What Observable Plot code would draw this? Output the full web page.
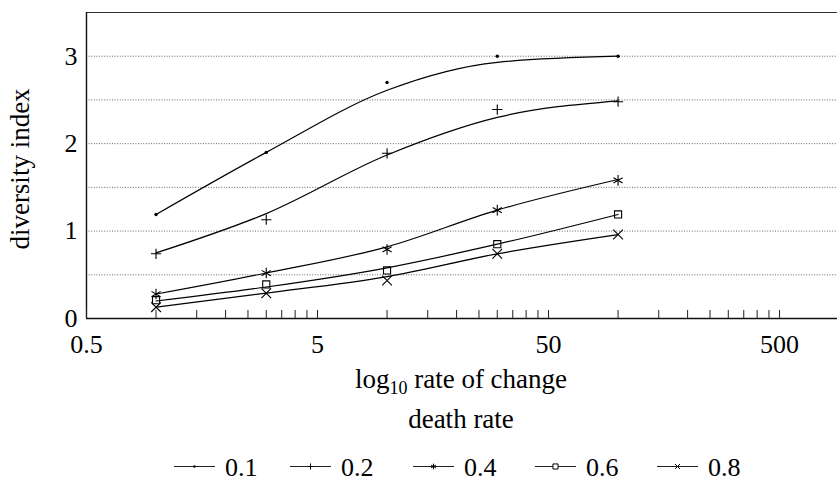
<!DOCTYPE html>
<html>
<head>
<meta charset="utf-8">
<script src="https://cdn.jsdelivr.net/npm/d3@7"></script>
<script src="https://cdn.jsdelivr.net/npm/@observablehq/plot@0.6"></script>
<style>
  html, body { margin: 0; padding: 0; background: white; }
  #chart svg { display: block; }
</style>
</head>
<body>
<div id="chart"></div>
<script>
// Death-rate values (x, log scale)
const xs = [1, 3, 10, 30, 100];
// Series (legend labels) and their marker symbols
const seriesNames = ["0.1", "0.2", "0.4", "0.6", "0.8"];
const seriesSymbols = ["circle", "plus", "asterisk", "square", "times"];
// Observed diversity index values (markers)
const obs01 = [1.19, 1.90, 2.70, 3.00, 3.00];
const obs02 = [0.74, 1.13, 1.89, 2.39, 2.48];
const obs04 = [0.28, 0.52, 0.79, 1.24, 1.58];
const obs06 = [0.21, 0.39, 0.55, 0.85, 1.19];
const obs08 = [0.13, 0.29, 0.435, 0.74, 0.96];
// Fitted (smoothed) curve values at the same x
const fit01 = [1.19, 1.90, 2.61, 2.93, 3.00];
const fit02 = [0.75, 1.20, 1.87, 2.30, 2.49];
const fit04 = [0.28, 0.52, 0.82, 1.24, 1.59];
const fit06 = [0.20, 0.36, 0.58, 0.85, 1.19];
const fit08 = [0.13, 0.29, 0.48, 0.74, 0.96];
// Axis ticks
const xTickMarks = [0.5, 1, 1.5, 2, 2.5, 3, 3.5, 4, 4.5, 5,
                    10, 15, 20, 25, 30, 35, 40, 45, 50,
                    100, 150, 200, 250, 300, 350, 400, 450, 500];
const xTickLabels = [0.5, 5, 50, 500];
const yTickLabels = [0, 1, 2, 3];
const yGrid = [0.5, 1, 1.5, 2, 2.5, 3];

const obsAll = [obs01, obs02, obs04, obs06, obs08];
const fitAll = [fit01, fit02, fit04, fit06, fit08];

const fitRows = seriesNames.flatMap((s, i) => xs.map((x, j) => ({s, x, y: fitAll[i][j]})));
const obsRows = seriesNames.flatMap((s, i) => xs.map((x, j) => ({s, x, y: obsAll[i][j], sym: seriesSymbols[i]})));

const symStyle = {
  circle:   {r: 1.7, fill: "black", stroke: "none"},
  plus:     {r: 3.4, fill: "none", stroke: "black", strokeWidth: 1.1},
  asterisk: {r: 5.0, fill: "none", stroke: "black", strokeWidth: 1.1},
  square:   {r: 4.0, fill: "none", stroke: "black", strokeWidth: 1.1},
  times:    {r: 4.5, fill: "none", stroke: "black", strokeWidth: 1.1}
};

const FONT = "'Liberation Serif', 'DejaVu Serif', serif";

const chart = Plot.plot({
  width: 837,
  height: 482,
  marginLeft: 86,
  marginRight: 0,
  marginTop: 12,
  marginBottom: 164,
  x: {type: "log", domain: [0.5, 891], axis: null},
  y: {domain: [0, 3.5], axis: null},
  style: {fontFamily: FONT, background: "white", color: "black"},
  marks: [
    Plot.ruleY(yGrid, {stroke: "#666", strokeDasharray: "1,1.6", strokeWidth: 1}),
    Plot.ruleY([0], {stroke: "#111", strokeWidth: 1.4}),
    Plot.ruleY([3.5], {stroke: "#333", strokeWidth: 1.2}),
    Plot.ruleX([0.5], {y1: 0, y2: 3.5, stroke: "#111", strokeWidth: 1.4}),
    Plot.ruleX(xTickMarks, {x: d => d, y1: 0, y2: 0.092, stroke: "#222", strokeWidth: 1}),
    Plot.text(xTickLabels, {x: d => d, y: 0, dy: 26, text: d => String(d), fontSize: 26, fill: "black"}),
    Plot.text(yTickLabels, {x: 0.5, y: d => d, dx: -9, textAnchor: "end", text: d => String(d), fontSize: 26, fill: "black"}),
    Plot.line(fitRows, {x: "x", y: "y", z: "s", curve: "monotone-x", stroke: "black", strokeWidth: 1.2}),
    ...seriesSymbols.map(sym => Plot.dot(obsRows.filter(d => d.sym === sym), {
      x: "x", y: "y", symbol: sym, ...symStyle[sym]
    }))
  ]
});

const svg = d3.select(chart);
const ns = svg.append("g").attr("font-family", FONT).attr("fill", "black");

// y axis title
ns.append("text")
  .attr("transform", "translate(28.5,169) rotate(-90)")
  .attr("text-anchor", "middle")
  .attr("font-size", 27)
  .text("diversity index");

// x axis title with subscript
const t1 = ns.append("text")
  .attr("x", 461).attr("y", 388)
  .attr("text-anchor", "middle")
  .attr("font-size", 27);
t1.append("tspan").text("log");
t1.append("tspan").attr("font-size", 18).attr("dy", 6).text("10");
t1.append("tspan").attr("dy", -6).text(" rate of change");

ns.append("text")
  .attr("x", 461).attr("y", 428)
  .attr("text-anchor", "middle")
  .attr("font-size", 27)
  .text("death rate");

// legend
const legendStarts = [174, 290, 413, 535, 657];
const legendSym = {
  circle: [d3.symbolCircle, 5, true],
  plus: [d3.symbolPlus, 14, false],
  asterisk: [d3.symbolAsterisk, 22, false],
  square: [d3.symbolSquare, 26, false],
  times: [d3.symbolTimes, 18, false]
};
seriesNames.forEach((name, i) => {
  const x0 = legendStarts[i];
  const g = ns.append("g");
  g.append("line")
    .attr("x1", x0).attr("x2", x0 + 41)
    .attr("y1", 466.5).attr("y2", 466.5)
    .attr("stroke", "#222").attr("stroke-width", 1.1);
  const [type, size, filled] = legendSym[seriesSymbols[i]];
  g.append("path")
    .attr("transform", `translate(${x0 + 20.5},466.5)`)
    .attr("d", d3.symbol(type, size)())
    .attr("fill", filled ? "black" : (seriesSymbols[i] === "square" ? "white" : "none"))
    .attr("stroke", filled ? "none" : "black")
    .attr("stroke-width", 1);
  g.append("text")
    .attr("x", x0 + 51).attr("y", 475.5)
    .attr("text-anchor", "start")
    .attr("font-size", 26)
    .text(name);
});

document.getElementById("chart").appendChild(chart);
</script>
</body>
</html>
